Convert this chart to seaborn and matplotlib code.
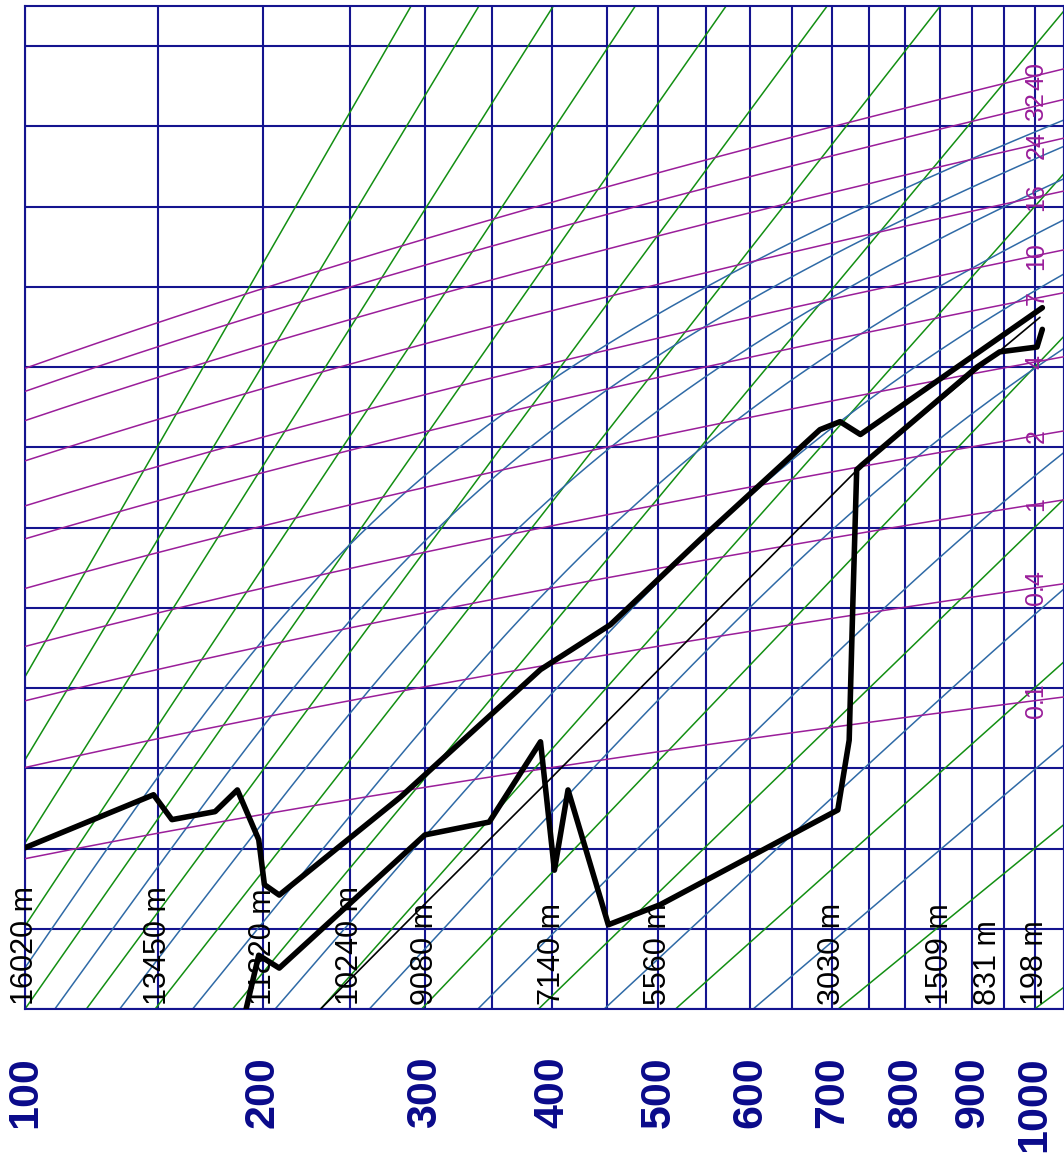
import numpy as np
import pandas as pd
import matplotlib
matplotlib.use("Agg")
import matplotlib.pyplot as plt
import matplotlib.transforms as mtransforms
import seaborn as sns

# ---------------- sounding data (pressure hPa, temperature degC) ----------------
temp_p = [100, 148, 156, 176, 187, 198, 201, 209, 283, 390, 453, 544, 685, 711, 738, 792, 1013]
temp_c = [-59.9, -53.3, -56.4, -55.4, -52.7, -58.9, -64.5, -65.8, -53.6, -37.7, -32.1,
          -21.5, -7.8, -6.8, -8.4, -5.0, 7.4]

dewp_p = [190, 198, 209, 300, 348, 390, 402, 414, 451, 502, 708, 723, 728, 733, 740,
          907, 943, 1004, 1013]
dewp_c = [-81.5, -73.3, -74.9, -58.3, -56.7, -46.7, -62.7, -52.7, -69.5, -67.0, -55.2,
          -46.5, -29.0, -12.8, -12.2, 0.0, 1.9, 2.5, 4.7]

parcel_p = [232, 300, 400, 544, 738, 881, 1009]
parcel_c = [-80.1, -66.9, -51.1, -32.5, -12.4, -2.1, 6.2]

# geopotential heights of the standard levels
height_p = [100, 150, 200, 250, 300, 400, 500, 700, 850, 925, 1000]
height_labels = ["16020 m", "13450 m", "11820 m", "10240 m", "9080 m", "7140 m",
                 "5560 m", "3030 m", "1509 m", "831 m", "198 m"]

# ---------------- diagram background ----------------
pressure_ticks = [100, 200, 300, 400, 500, 600, 700, 800, 900, 1000]
isobar_levels = list(range(100, 1051, 50))
isotherm_levels = list(range(-80, 41, 10))
dry_theta_c = list(range(-80, 181, 20))       # dry adiabats, potential temperature degC
moist_theta_c = list(range(-50, 111, 20))     # pseudo-adiabats, theta at -80 degC
mixing_ratios = [0.1, 0.4, 1, 2, 4, 7, 10, 16, 24, 32, 40]
mixing_labels = ["0.1", "0.4", "1", "2", "4", "7", "10", "16", "24", "32", "40"]

KAPPA = 0.286
P_MIN, P_MAX = 100, 1050
T_MIN, T_MAX = -80, 45

NAVY = "#14148f"
LABEL_NAVY = "#0a0a8a"
GREEN = "#138f13"
BLUE = "#2f6aa6"
MAGENTA = "#9a1e9a"


def sat_vp(tc):
    return 6.112 * np.exp(17.67 * tc / (tc + 243.5))


def mixing_ratio_temp(r, p):
    e = r * p / (622.0 + r)
    a = np.log(e / 6.112)
    return 243.5 * a / (17.67 - a)


def moist_lapse(p, tk):
    rd, cp, lv, eps = 287.04, 1005.7, 2.501e6, 0.622
    es = sat_vp(tk - 273.15)
    rs = eps * es / (p - es)
    return (rd * tk + lv * rs) / (cp + lv * lv * rs * eps / (rd * tk * tk)) / p


def moist_adiabat(theta_c, n=500):
    t0 = T_MIN + 273.15
    p0 = 1000.0 * (t0 / (theta_c + 273.15)) ** (1.0 / KAPPA)
    ps = np.linspace(p0, P_MAX, n)
    ts = np.empty(n)
    ts[0] = t0
    for i in range(n - 1):
        h = ps[i + 1] - ps[i]
        p, t = ps[i], ts[i]
        k1 = moist_lapse(p, t)
        k2 = moist_lapse(p + h / 2, t + h * k1 / 2)
        k3 = moist_lapse(p + h / 2, t + h * k2 / 2)
        k4 = moist_lapse(p + h, t + h * k3)
        ts[i + 1] = t + h * (k1 + 2 * k2 + 2 * k3 + k4) / 6
    return ps, ts - 273.15


sns.set_theme(style="white")
plt.rcParams["font.family"] = ["Liberation Sans", "DejaVu Sans"]

fig = plt.figure(figsize=(10.64, 11.58), dpi=100)
ax = fig.add_axes([25 / 1064, 149 / 1158, 1039 / 1064, 1003 / 1158])

fwd = lambda p: np.power(np.clip(p, 1e-6, None), KAPPA)
inv = lambda q: np.power(np.clip(q, 1e-6, None), 1.0 / KAPPA)
ax.set_xscale("function", functions=(fwd, inv))
ax.set_xlim(P_MIN, P_MAX)
ax.set_ylim(T_MIN, T_MAX)

pp = np.linspace(60, P_MAX, 400)

# dry adiabats
for th in dry_theta_c:
    ax.plot(pp, (th + 273.15) * (pp / 1000.0) ** KAPPA - 273.15,
            color=GREEN, lw=1.1, zorder=2)

# saturated adiabats
for th in moist_theta_c:
    mp, mt = moist_adiabat(th)
    ax.plot(mp, mt, color=BLUE, lw=1.1, zorder=2)

# saturation mixing ratio lines with labels near 1000 hPa
pm = np.linspace(P_MIN, P_MAX, 300)
for r, lab in zip(mixing_ratios, mixing_labels):
    ax.plot(pm, mixing_ratio_temp(r, pm), color=MAGENTA, lw=1.1, zorder=3)
    ax.text(1003, mixing_ratio_temp(r, 1000.0), lab, rotation=90, ha="center",
            va="center", fontsize=18, color=MAGENTA, zorder=4)

# sounding curves
df_t = pd.DataFrame({"pressure": temp_p, "temperature": temp_c})
df_d = pd.DataFrame({"pressure": dewp_p, "temperature": dewp_c})
df_par = pd.DataFrame({"pressure": parcel_p, "temperature": parcel_c})
sns.lineplot(data=df_par, x="pressure", y="temperature", ax=ax, color="black",
             lw=1.2, sort=False, estimator=None, zorder=5)
sns.lineplot(data=df_d, x="pressure", y="temperature", ax=ax, color="black",
             lw=4.0, sort=False, estimator=None, zorder=6)
sns.lineplot(data=df_t, x="pressure", y="temperature", ax=ax, color="black",
             lw=4.0, sort=False, estimator=None, zorder=6)

# grid: isobars and isotherms
ax.set_xticks(isobar_levels)
ax.set_xticklabels([str(p) if p in pressure_ticks else "" for p in isobar_levels],
                   rotation=90, fontweight="bold", fontsize=31, color=LABEL_NAVY)
ax.set_yticks(isotherm_levels)
ax.set_yticklabels([])
ax.tick_params(axis="x", length=0, pad=34)
ax.tick_params(axis="y", length=0)
ax.grid(True, color=NAVY, lw=1.5)
ax.set_axisbelow(True)
for s in ax.spines.values():
    s.set_color(NAVY)
    s.set_linewidth(1.5)
ax.set_xlabel("")
ax.set_ylabel("")

# heights of standard levels along the bottom
trans = mtransforms.blended_transform_factory(ax.transData, ax.transAxes)
for p, lab in zip(height_p, height_labels):
    ax.text(p, 0.004, lab, transform=trans, rotation=90, ha="center", va="bottom",
            fontsize=22, color="black", zorder=7)

fig.savefig("out.png", dpi=100)
